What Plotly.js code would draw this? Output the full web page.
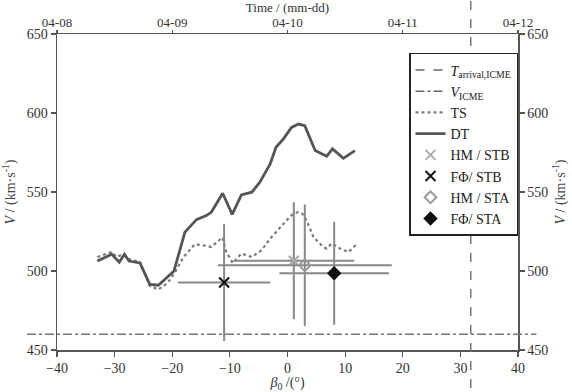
<!DOCTYPE html>
<html>
<head>
<meta charset="utf-8">
<script src="https://cdn.plot.ly/plotly-3.0.1.min.js"></script>
<style>html,body{margin:0;padding:0;background:#fff;}#chart{width:572px;height:392px;}</style>
</head>
<body>
<div id="chart"></div>
<script>
// DT (solid) curve
const betaDT = [-33.0, -30.5, -29.2, -28.3, -27.5, -25.6, -23.9, -22.4, -19.7, -18.7, -17.8, -15.8, -14.0, -13.2, -11.25, -9.6, -8.0, -6.2, -4.8, -3.0, -2.0, -0.7, 0.7, 1.9, 3.0, 4.8, 6.8, 7.8, 9.7, 11.7];
const vDT    = [506.3, 510.6, 505.5, 510.6, 506.3, 505.1, 491.5, 491.0, 500.0, 513.1, 524.6, 532.5, 535.2, 537.3, 549.2, 535.8, 548.2, 549.9, 556.2, 567.8, 578.3, 583.6, 590.9, 593.0, 592.0, 576.2, 572.6, 577.3, 571.3, 576.2];
// TS (dotted) curve
const betaTS = [-33.0, -31.5, -30.5, -29.7, -28.5, -27.5, -25.6, -23.9, -22.4, -20.8, -19.5, -18.1, -16.1, -14.6, -13.2, -11.3, -10.6, -9.5, -8.0, -6.2, -4.5, -3.0, -1.3, 0.2, 1.0, 1.9, 2.6, 3.3, 4.5, 6.2, 6.8, 7.7, 9.1, 10.6, 12.0];
const vTS    = [508.9, 511.0, 512.0, 508.9, 510.6, 507.5, 505.5, 490.5, 488.3, 492.5, 499.4, 508.5, 516.9, 516.2, 515.2, 521.3, 512.0, 505.0, 511.0, 508.9, 513.1, 520.5, 527.8, 533.5, 536.2, 537.3, 536.2, 532.0, 521.5, 515.2, 514.2, 517.5, 514.2, 512.0, 517.0];
// single estimates with error ranges
const pointNames   = ['HM / STB', 'FΦ/ STB', 'HM / STA', 'FΦ/ STA'];
const pointBeta    = [1.1, -11.0, 3.0, 8.1];
const pointV       = [506.5, 492.7, 503.6, 498.6];
const pointBetaErr = [10.5, 8.0, 15.1, 9.5];
const pointVErr    = [37.0, 37.0, 38.5, 32.6];
const pointSymbols = ['x-thin-open', 'x-thin-open', 'diamond-open', 'diamond'];
const pointColors  = ['#aaaaaa', '#111111', '#999999', '#111111'];
const pointSizes   = [10, 10, 9, 9];
// reference lines
const arrivalBeta = 31.8;   // T_arrival,ICME
const vICME = 460;          // V_ICME
// axes
const betaTicks = [-40, -30, -20, -10, 0, 10, 20, 30, 40];
const vTicks = [450, 500, 550, 600, 650];
const timeRange = ['2012-04-08', '2012-04-12'];

const FONT = 'Liberation Serif, Times New Roman, serif';
const traces = [
  {x: [null], y: [null], mode: 'lines', name: '<i>T</i><sub>arrival,ICME</sub>',
   line: {color: '#666', width: 1.5, dash: 'dash'}},
  {x: [null], y: [null], mode: 'lines', name: '<i>V</i><sub>ICME</sub>',
   line: {color: '#666', width: 1.5, dash: 'dashdot'}},
  {x: betaTS, y: vTS, mode: 'lines', name: 'TS',
   line: {color: '#7a7a7a', width: 2.2, dash: 'dot'}},
  {x: betaDT, y: vDT, mode: 'lines', name: 'DT',
   line: {color: '#555555', width: 2.8}}
];
pointNames.forEach((nm, i) => {
  traces.push({
    x: [pointBeta[i]], y: [pointV[i]], mode: 'markers', name: nm,
    marker: {symbol: pointSymbols[i], size: pointSizes[i], color: pointColors[i],
             line: {color: pointColors[i], width: 2}},
    error_x: {type: 'data', array: [pointBetaErr[i]], color: '#888', thickness: 2, width: 0},
    error_y: {type: 'data', array: [pointVErr[i]], color: '#888', thickness: 2, width: 0}
  });
});
// carrier for the secondary (time / right) axes
traces.push({x: timeRange, y: [null, null], xaxis: 'x2', yaxis: 'y2', mode: 'lines',
             showlegend: false, hoverinfo: 'skip'});

const axisCommon = {
  showline: true, linecolor: '#555', linewidth: 1.5, ticks: 'outside', ticklen: 5,
  tickcolor: '#555', tickwidth: 1.2, showgrid: false, zeroline: false,
  tickfont: {family: FONT, size: 14, color: '#333'}
};
const vTitle = '<i>V</i> / (km·s<sup>-1</sup>)';
const layout = {
  width: 572, height: 392,
  margin: {l: 57, r: 54, t: 34, b: 42},
  paper_bgcolor: '#fff', plot_bgcolor: '#fff',
  font: {family: FONT, size: 14, color: '#333'},
  showlegend: true,
  legend: {x: 1, xanchor: 'right', y: 0.94, yanchor: 'top', bordercolor: '#222', borderwidth: 1.5,
           bgcolor: '#fff', font: {family: FONT, size: 14, color: '#222'}, tracegroupgap: 0},
  xaxis: Object.assign({}, axisCommon, {range: [-40, 40], tickvals: betaTicks,
    title: {text: '<i>β</i><sub>0</sub> /(°)', font: {family: FONT, size: 14, color: '#333'}, standoff: 2}}),
  yaxis: Object.assign({}, axisCommon, {range: [450, 650], tickvals: vTicks,
    title: {text: vTitle, font: {family: FONT, size: 14, color: '#444'}, standoff: 8}}),
  xaxis2: Object.assign({}, axisCommon, {overlaying: 'x', side: 'top', anchor: 'y', type: 'date',
    range: timeRange, dtick: 86400000, tickformat: '%m-%d', ticklen: 3, ticklabelstandoff: -3,
    tickfont: {family: FONT, size: 13, color: '#333'},
    title: {text: 'Time / (mm-dd)', font: {family: FONT, size: 13, color: '#333'}, standoff: 3}}),
  yaxis2: Object.assign({}, axisCommon, {overlaying: 'y', side: 'right', anchor: 'x',
    range: [450, 650], tickvals: vTicks,
    title: {text: vTitle, font: {family: FONT, size: 14, color: '#444'}, standoff: 8}}),
  shapes: [
    {type: 'line', xref: 'x', yref: 'paper', x0: arrivalBeta, x1: arrivalBeta, y0: -0.12, y1: 1.11,
     line: {color: '#777', width: 1.5, dash: 'dash'}},
    {type: 'line', xref: 'paper', yref: 'y', x0: -0.065, x1: 1.04, y0: vICME, y1: vICME,
     line: {color: '#777', width: 1.5, dash: 'dashdot'}}
  ]
};
Plotly.newPlot('chart', traces, layout, {staticPlot: true, displayModeBar: false});
</script>
</body>
</html>
